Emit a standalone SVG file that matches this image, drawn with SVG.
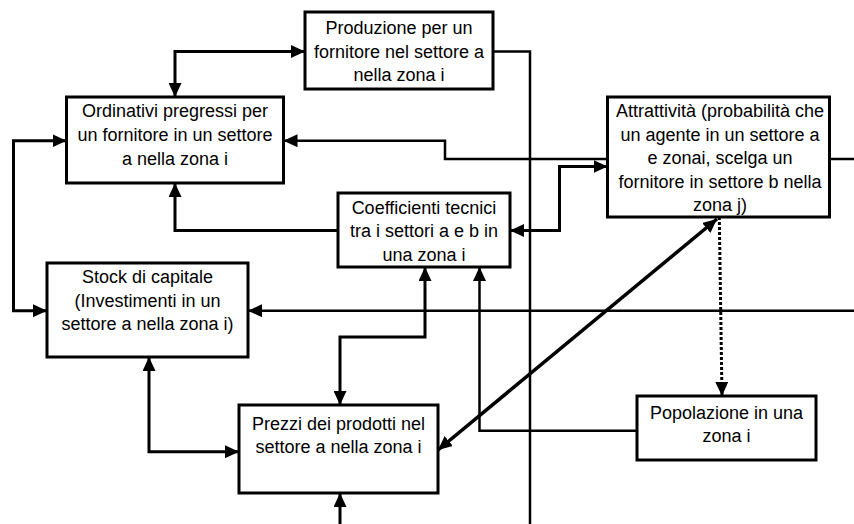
<svg xmlns="http://www.w3.org/2000/svg" width="854" height="524" viewBox="0 0 854 524">
  <style>
    .box { fill: #ffffff; stroke: #000000; stroke-width: 3; }
    .lbl { font-family: "Liberation Sans", Arial, sans-serif; font-size: 18px; fill: #000000; text-anchor: middle; }
    .ln { fill: none; stroke: #000000; stroke-width: 3; }
    .thin { stroke-width: 2.5; }
    .dot { stroke-dasharray: 3 2; }
  </style>
  <defs>
    <marker id="arrow" viewBox="0 0 14 13" markerUnits="userSpaceOnUse" markerWidth="14" markerHeight="13" refX="14" refY="6.5" orient="auto-start-reverse">
      <path d="M0,0 L14,6.5 L0,13 Z" fill="#000000"/>
    </marker>
  </defs>
  <rect x="0" y="0" width="854" height="524" fill="#ffffff"/>

  <g id="produzione">
    <rect class="box" x="305" y="12" width="188" height="77"/>
    <text class="lbl" x="399" y="34">Produzione per un</text>
    <text class="lbl" x="399" y="57.5">fornitore nel settore a</text>
    <text class="lbl" x="399" y="81">nella zona i</text>
  </g>

  <g id="ordinativi">
    <rect class="box" x="66.5" y="97" width="217" height="86"/>
    <text class="lbl" x="175" y="117">Ordinativi pregressi per</text>
    <text class="lbl" x="175" y="141">un fornitore in un settore</text>
    <text class="lbl" x="175" y="165">a nella zona i</text>
  </g>

  <g id="attrattivita">
    <rect class="box" x="607.5" y="97" width="222" height="120"/>
    <text class="lbl" x="720" y="117">Attrattività (probabilità che</text>
    <text class="lbl" x="720" y="140.5">un agente in un settore a</text>
    <text class="lbl" x="720" y="164">e zonai, scelga un</text>
    <text class="lbl" x="720" y="187.5">fornitore in settore b nella</text>
    <text class="lbl" x="720" y="211">zona j)</text>
  </g>

  <g id="coefficienti">
    <rect class="box" x="338" y="193" width="172" height="74"/>
    <text class="lbl" x="424" y="213.5">Coefficienti tecnici</text>
    <text class="lbl" x="424" y="237">tra i settori a e b in</text>
    <text class="lbl" x="424" y="260.5">una zona i</text>
  </g>

  <g id="stock">
    <rect class="box" x="47" y="263" width="201" height="94"/>
    <text class="lbl" x="147.5" y="283">Stock di capitale</text>
    <text class="lbl" x="147.5" y="306.5">(Investimenti in un</text>
    <text class="lbl" x="147.5" y="330">settore a nella zona i)</text>
  </g>

  <g id="prezzi">
    <rect class="box" x="239" y="405" width="199" height="88"/>
    <text class="lbl" x="338.5" y="429.5">Prezzi dei prodotti nel</text>
    <text class="lbl" x="338.5" y="453">settore a nella zona i</text>
  </g>

  <g id="popolazione">
    <rect class="box" x="637" y="396" width="179" height="64"/>
    <text class="lbl" x="726.5" y="418.5">Popolazione in una</text>
    <text class="lbl" x="726.5" y="442">zona i</text>
  </g>

  <g id="connectors">
    <!-- production <-> backlog orders -->
    <path class="ln" d="M175,97 V51.5 H305" marker-start="url(#arrow)" marker-end="url(#arrow)"/>
    <!-- production feed running down the middle -->
    <path class="ln thin" d="M493,51.5 H530 V524"/>
    <!-- attractiveness -> backlog orders -->
    <path class="ln thin" d="M607.5,159 H445 V140.7 H283.5" marker-end="url(#arrow)"/>
    <!-- technical coefficients <-> attractiveness -->
    <path class="ln" d="M510,230.5 H559.5 V166.5 H607.5" marker-start="url(#arrow)" marker-end="url(#arrow)"/>
    <!-- attractiveness outgoing to the right -->
    <path class="ln thin" d="M829.5,159 H854"/>
    <!-- technical coefficients -> backlog orders -->
    <path class="ln" d="M338,230.5 H175 V183" marker-end="url(#arrow)"/>
    <!-- left loop: backlog orders <-> capital stock -->
    <path class="ln" d="M66.5,140.7 H13.5 V310.7 H47" marker-start="url(#arrow)" marker-end="url(#arrow)"/>
    <!-- incoming from the right into capital stock -->
    <path class="ln thin" d="M854,310.7 H248" marker-end="url(#arrow)"/>
    <!-- capital stock <-> prices -->
    <path class="ln" d="M149,357 V451.7 H239" marker-start="url(#arrow)" marker-end="url(#arrow)"/>
    <!-- technical coefficients <-> prices -->
    <path class="ln" d="M425,267 V337 H340 V405" marker-start="url(#arrow)" marker-end="url(#arrow)"/>
    <!-- incoming from below into prices -->
    <path class="ln" d="M340,524 V493" marker-end="url(#arrow)"/>
    <!-- population -> technical coefficients -->
    <path class="ln thin" d="M637,430.7 H479.5 V267" marker-end="url(#arrow)"/>
    <!-- prices <-> attractiveness -->
    <path class="ln" style="stroke-width:3.5" d="M438,450 L717,219" marker-start="url(#arrow)" marker-end="url(#arrow)"/>
    <!-- attractiveness -> population (dotted) -->
    <path class="ln dot" d="M719.3,217 L722,396" marker-end="url(#arrow)"/>
  </g>
</svg>
